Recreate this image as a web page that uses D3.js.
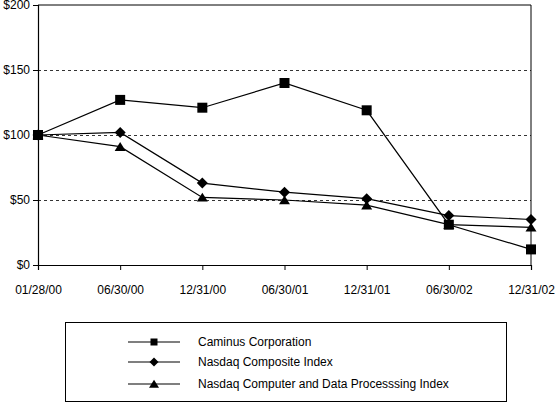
<!DOCTYPE html>
<html><head><meta charset="utf-8">
<script src="https://cdn.jsdelivr.net/npm/d3@7/dist/d3.min.js"></script>
<style>body{margin:0;background:#fff}svg{display:block}text{font-family:"Liberation Sans",Arial,sans-serif;font-size:12px;fill:#000}</style>
</head><body><svg id="c" width="556" height="403"></svg>
<script>
const dates = ["01/28/00","06/30/00","12/31/00","06/30/01","12/31/01","06/30/02","12/31/02"];
const caminus = [100,127,121,140,119,31,12];
const nasdaqComposite = [100,102,63,56,51,38,35];
const nasdaqComputer = [100,91,52,50,46,31,29];
const yTicks = [0,50,100,150,200];
const seriesNames = ["Caminus Corporation","Nasdaq Composite Index","Nasdaq Computer and Data Processsing Index"];

const svg = d3.select("#c");
const L=38,R=531,T=5,B=265;
const x = d3.scalePoint().domain(dates).range([L,R]);
const y = d3.scaleLinear().domain([0,200]).range([B,T]);

// marker shapes
const square = s => `M${-s/2},${-s/2}h${s}v${s}h${-s}Z`;
const diamond = s => `M0,${-s/2}L${s/2},0L0,${s/2}L${-s/2},0Z`;
const triangle = s => `M0,${-s*0.42}L${s/2},${s*0.38}L${-s/2},${s*0.38}Z`;

// gridlines
svg.append("g").selectAll("line").data(yTicks.filter(d=>d>0&&d<200)).join("line")
  .attr("x1",L).attr("x2",R).attr("y1",d=>y(d)+0.5).attr("y2",d=>y(d)+0.5)
  .attr("stroke","#000").attr("stroke-width",0.8).attr("stroke-dasharray","3,3");
// frame top & right
svg.append("line").attr("x1",L).attr("x2",R).attr("y1",T).attr("y2",T).attr("stroke","#000");
svg.append("line").attr("x1",R).attr("x2",R).attr("y1",T).attr("y2",B).attr("stroke","#000");

const yAxis = d3.axisLeft(y).tickValues(yTicks).tickFormat(d=>"$"+d).tickSize(5).tickPadding(3);
const gy = svg.append("g").attr("transform",`translate(${L},0)`).call(yAxis);
const xAxis = d3.axisBottom(x).tickSize(5).tickPadding(15);
const gx = svg.append("g").attr("transform",`translate(0,${B})`).call(xAxis);
[gx,gy].forEach(g=>{g.select(".domain").attr("stroke","#000").attr("stroke-width",1.2);
  g.selectAll(".tick line").attr("stroke","#000");
  g.selectAll("text").attr("font-size",12).attr("font-family","Liberation Sans, Arial, sans-serif").attr("fill","#000");});

const series = [
  {vals:caminus, sym:square(10), lsym:square(7)},
  {vals:nasdaqComposite, sym:diamond(11), lsym:diamond(9)},
  {vals:nasdaqComputer, sym:triangle(11), lsym:triangle(10)}
];
const line = d3.line().x((d,i)=>x(dates[i])).y(d=>y(d));
series.forEach(s=>{
  svg.append("path").attr("d",line(s.vals)).attr("fill","none").attr("stroke","#000").attr("stroke-width",1.2);
});
series.forEach(s=>{
  svg.append("g").selectAll("path").data(s.vals).join("path")
    .attr("d",s.sym).attr("transform",(d,i)=>`translate(${x(dates[i])},${y(d)})`).attr("fill","#000");
});

// legend
svg.append("rect").attr("x",65.5).attr("y",322.5).attr("width",441).attr("height",79)
  .attr("fill","none").attr("stroke","#000").attr("stroke-width",1);
const ly=[342,362,384];
seriesNames.forEach((n,i)=>{
  svg.append("line").attr("x1",128).attr("x2",180).attr("y1",ly[i]).attr("y2",ly[i]).attr("stroke","#000").attr("stroke-width",1.2);
  svg.append("path").attr("d",series[i].lsym).attr("transform",`translate(154,${ly[i]})`).attr("fill","#000");
  svg.append("text").attr("x",198).attr("y",ly[i]).attr("dy","0.35em").text(n);
});
</script></body></html>
